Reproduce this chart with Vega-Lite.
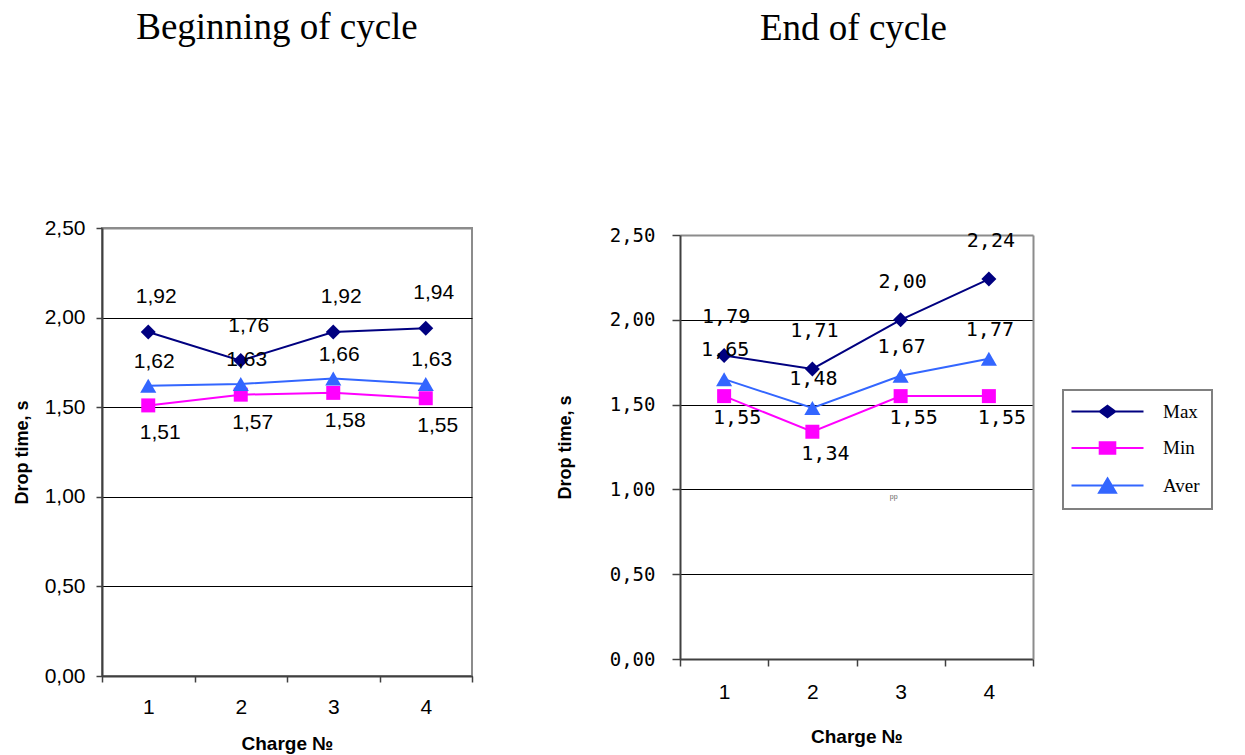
{
  "$schema": "https://vega.github.io/schema/vega-lite/v6.json",
  "padding": {"left": 12, "top": 8, "right": 5, "bottom": 2},
  "background": "white",
  "datasets": {
    "drops": [
      {"panel": "begin", "series": "Max", "charge": 1, "value": 1.92},
      {"panel": "begin", "series": "Max", "charge": 2, "value": 1.76},
      {"panel": "begin", "series": "Max", "charge": 3, "value": 1.92},
      {"panel": "begin", "series": "Max", "charge": 4, "value": 1.94},
      {"panel": "begin", "series": "Min", "charge": 1, "value": 1.51},
      {"panel": "begin", "series": "Min", "charge": 2, "value": 1.57},
      {"panel": "begin", "series": "Min", "charge": 3, "value": 1.58},
      {"panel": "begin", "series": "Min", "charge": 4, "value": 1.55},
      {"panel": "begin", "series": "Aver", "charge": 1, "value": 1.62},
      {"panel": "begin", "series": "Aver", "charge": 2, "value": 1.63},
      {"panel": "begin", "series": "Aver", "charge": 3, "value": 1.66},
      {"panel": "begin", "series": "Aver", "charge": 4, "value": 1.63},
      {"panel": "end", "series": "Max", "charge": 1, "value": 1.79},
      {"panel": "end", "series": "Max", "charge": 2, "value": 1.71},
      {"panel": "end", "series": "Max", "charge": 3, "value": 2.00},
      {"panel": "end", "series": "Max", "charge": 4, "value": 2.24},
      {"panel": "end", "series": "Min", "charge": 1, "value": 1.55},
      {"panel": "end", "series": "Min", "charge": 2, "value": 1.34},
      {"panel": "end", "series": "Min", "charge": 3, "value": 1.55},
      {"panel": "end", "series": "Min", "charge": 4, "value": 1.55},
      {"panel": "end", "series": "Aver", "charge": 1, "value": 1.65},
      {"panel": "end", "series": "Aver", "charge": 2, "value": 1.48},
      {"panel": "end", "series": "Aver", "charge": 3, "value": 1.67},
      {"panel": "end", "series": "Aver", "charge": 4, "value": 1.77}
    ],
    "note": [
      {"panel": "end", "charge": 3, "value": 0.955, "t": "pp"}
    ]
  },
  "config": {
    "locale": {"number": {"decimal": ",", "thousands": " ", "grouping": [3], "currency": ["", ""]}},
    "view": {"stroke": "#8c8c8c", "strokeWidth": 2},
    "font": "Liberation Sans"
  },
  "columns": 2,
  "align": "none",
  "spacing": 82,
  "resolve": {"scale": {"color": "shared"}, "legend": {"color": "shared"}},
  "concat": [
    {
      "width": 370,
      "height": 448,
      "data": {"name": "drops"},
      "transform": [{"filter": "datum.panel === 'begin'"}],
      "title": {"text": "Beginning of cycle", "font": "Liberation Serif", "fontSize": 37, "fontWeight": "normal", "color": "black", "frame": "group", "anchor": "middle", "baseline": "alphabetic", "offset": 141, "dx": -10},
      "encoding": {
        "x": {
          "field": "charge", "type": "ordinal",
          "scale": {"type": "band", "paddingInner": 0, "paddingOuter": 0},
          "axis": {"title": "Charge №", "titleFont": "Liberation Sans", "titleFontSize": 19, "titleFontWeight": "bold", "titleColor": "black", "titlePadding": 17,
                   "labelAngle": 0, "labelFontSize": 21, "labelColor": "black", "labelPadding": 14,
                   "tickBand": "extent", "tickSize": 6, "tickColor": "#404040", "tickWidth": 1.5,
                   "domainColor": "#404040", "domainWidth": 2, "grid": false}
        },
        "y": {
          "field": "value", "type": "quantitative",
          "scale": {"domain": [0, 2.5], "nice": false, "zero": true},
          "axis": {"title": "Drop time, s", "titleFont": "Liberation Sans", "titleFontSize": 18, "titleFontWeight": "bold", "titleColor": "black", "titlePadding": 13,
                   "values": [0, 0.5, 1, 1.5, 2, 2.5], "format": ".2f",
                   "labelFontSize": 21, "labelColor": "black", "labelPadding": 11,
                   "tickSize": 6, "tickColor": "#404040", "tickWidth": 1.5,
                   "domainColor": "#404040", "domainWidth": 2,
                   "grid": true, "gridColor": {"condition": {"test": "datum.value >= 2.5", "value": "#8c8c8c"}, "value": "black"},
                   "gridWidth": {"condition": {"test": "datum.value >= 2.5", "value": 2}, "value": 1}, "gridOpacity": 1}
        }
      },
      "layer": [
        {
          "mark": {"type": "line", "strokeWidth": 2},
          "encoding": {
            "color": {
              "field": "series", "type": "nominal",
              "scale": {"domain": ["Max", "Min", "Aver"], "range": ["#000080", "#FF00FF", "#3366FF"]},
              "legend": {
                "title": null, "orient": "none", "legendX": 961, "legendY": 162, "direction": "vertical",
                "padding": 12, "strokeColor": "#808080", "fillColor": "white",
                "symbolSize": 100, "symbolStrokeWidth": 2, "symbolOffset": 23,
                "labelFont": "Liberation Serif", "labelFontSize": 19, "labelColor": "black", "labelOffset": 46, "rowPadding": 15.5,
                "encode": {
                  "legend": {"update": {"strokeWidth": {"value": 2}}},
                  "symbols": {"update": {
                    "shape": {"signal": "datum.value === 'Max' ? 'M-7.2,0H7.2M0,-1.13L1.56,0L0,1.13L-1.56,0Z' : datum.value === 'Min' ? 'M-7.2,0H7.2M-1.56,-1.13H1.56V1.13H-1.56Z' : 'M-7.2,0H7.2M0,-1.43L1.7,1.43H-1.7Z'"},
                    "fill": {"signal": "datum.value === 'Max' ? '#000080' : datum.value === 'Min' ? '#FF00FF' : '#3366FF'"},
                    "stroke": {"signal": "datum.value === 'Max' ? '#000080' : datum.value === 'Min' ? '#FF00FF' : '#3366FF'"},
                    "strokeWidth": {"value": 2},
                    "opacity": {"value": 1}
                  }}
                }
              }
            }
          }
        },
        {
          "transform": [{"filter": "datum.series === 'Max'"}],
          "mark": {"type": "point", "shape": "diamond", "filled": true, "size": 225, "opacity": 1},
          "encoding": {"color": {"field": "series", "type": "nominal"}}
        },
        {
          "transform": [{"filter": "datum.series === 'Min'"}],
          "mark": {"type": "point", "shape": "square", "filled": true, "size": 196, "opacity": 1},
          "encoding": {"color": {"field": "series", "type": "nominal"}}
        },
        {
          "transform": [{"filter": "datum.series === 'Aver'"}],
          "mark": {"type": "point", "shape": "triangle-up", "filled": true, "size": 260, "opacity": 1},
          "encoding": {"color": {"field": "series", "type": "nominal"}}
        },
        {
          "transform": [{"filter": "datum.series === 'Max'"}],
          "mark": {"type": "text", "fontSize": 21, "color": "black", "dx": 8, "dy": -35},
          "encoding": {"text": {"field": "value", "type": "quantitative", "format": ".2f"}}
        },
        {
          "transform": [{"filter": "datum.series === 'Aver'"}],
          "mark": {"type": "text", "fontSize": 21, "color": "black", "dx": 6, "dy": -24},
          "encoding": {"text": {"field": "value", "type": "quantitative", "format": ".2f"}}
        },
        {
          "transform": [{"filter": "datum.series === 'Min'"}],
          "mark": {"type": "text", "fontSize": 21, "color": "black", "dx": 12, "dy": 28},
          "encoding": {"text": {"field": "value", "type": "quantitative", "format": ".2f"}}
        }
      ]
    },
    {
      "width": 353,
      "height": 431,
      "view": {"stroke": null},
      "data": {"name": "drops"},
      "transform": [{"filter": "datum.panel === 'end'"}],
      "title": {"text": "End of cycle", "font": "Liberation Serif", "fontSize": 37, "fontWeight": "normal", "color": "black", "frame": "group", "anchor": "middle", "baseline": "alphabetic", "offset": 149, "dx": -3},
      "encoding": {
        "x": {
          "field": "charge", "type": "ordinal",
          "scale": {"type": "band", "paddingInner": 0, "paddingOuter": 0},
          "axis": {"title": "Charge №", "titleFont": "Liberation Sans", "titleFontSize": 19, "titleFontWeight": "bold", "titleColor": "black", "titlePadding": 25,
                   "labelAngle": 0, "labelFontSize": 21, "labelColor": "black", "labelPadding": 15,
                   "tickBand": "extent", "tickSize": 7, "tickColor": "#404040", "tickWidth": 1.5,
                   "domainColor": "#404040", "domainWidth": 2, "grid": false}
        },
        "y": {
          "field": "value", "type": "quantitative",
          "scale": {"domain": [0, 2.5], "range": [431, 7], "nice": false, "zero": true},
          "axis": {"title": "Drop time, s", "titleFont": "Liberation Sans", "titleFontSize": 18, "titleFontWeight": "bold", "titleColor": "black", "titlePadding": 35,
                   "values": [0, 0.5, 1, 1.5, 2, 2.5], "format": ".2f",
                   "labelFont": "DejaVu Sans Mono", "labelFontSize": 19, "labelColor": "black", "labelPadding": 17,
                   "tickSize": 8, "tickColor": "#404040", "tickWidth": 1.5,
                   "domainColor": "#404040", "domainWidth": 2,
                   "grid": true, "gridColor": {"condition": {"test": "datum.value >= 2.5", "value": "#8c8c8c"}, "value": "black"},
                   "gridWidth": {"condition": {"test": "datum.value >= 2.5", "value": 2}, "value": 1}, "gridOpacity": 1}
        }
      },
      "resolve": {"axis": {"y": "independent"}},
      "layer": [
        {
          "layer": [
            {
              "mark": {"type": "line", "strokeWidth": 2},
              "encoding": {
                "color": {
                  "field": "series", "type": "nominal",
                  "scale": {"domain": ["Max", "Min", "Aver"], "range": ["#000080", "#FF00FF", "#3366FF"]}
                }
              }
            },
            {
              "transform": [{"filter": "datum.series === 'Max'"}],
              "mark": {"type": "point", "shape": "diamond", "filled": true, "size": 225, "opacity": 1},
              "encoding": {"color": {"field": "series", "type": "nominal"}}
            },
            {
              "transform": [{"filter": "datum.series === 'Min'"}],
              "mark": {"type": "point", "shape": "square", "filled": true, "size": 196, "opacity": 1},
              "encoding": {"color": {"field": "series", "type": "nominal"}}
            },
            {
              "transform": [{"filter": "datum.series === 'Aver'"}],
              "mark": {"type": "point", "shape": "triangle-up", "filled": true, "size": 260, "opacity": 1},
              "encoding": {"color": {"field": "series", "type": "nominal"}}
            },
            {
              "transform": [{"filter": "datum.series === 'Max'"}],
              "mark": {"type": "text", "font": "DejaVu Sans Mono", "fontSize": 20, "color": "black", "dx": 2, "dy": -38},
              "encoding": {"text": {"field": "value", "type": "quantitative", "format": ".2f"}}
            },
            {
              "transform": [{"filter": "datum.series === 'Aver'"}],
              "mark": {"type": "text", "font": "DejaVu Sans Mono", "fontSize": 20, "color": "black", "dx": 1, "dy": -29},
              "encoding": {"text": {"field": "value", "type": "quantitative", "format": ".2f"}}
            },
            {
              "transform": [{"filter": "datum.series === 'Min'"}],
              "mark": {"type": "text", "font": "DejaVu Sans Mono", "fontSize": 20, "color": "black", "dx": 13, "dy": 22},
              "encoding": {"text": {"field": "value", "type": "quantitative", "format": ".2f"}}
            }
          ]
        },
        {
          "data": {"name": "note"},
          "mark": {"type": "text", "fontSize": 7, "color": "#666666", "dx": -7},
          "encoding": {
            "y": {"field": "value", "type": "quantitative",
                  "axis": {"orient": "right", "labels": false, "ticks": false, "grid": false, "title": null, "domainColor": "#8c8c8c", "domainWidth": 2}},
            "text": {"field": "t", "type": "nominal"}
          }
        }
      ]
    }
  ]
}
